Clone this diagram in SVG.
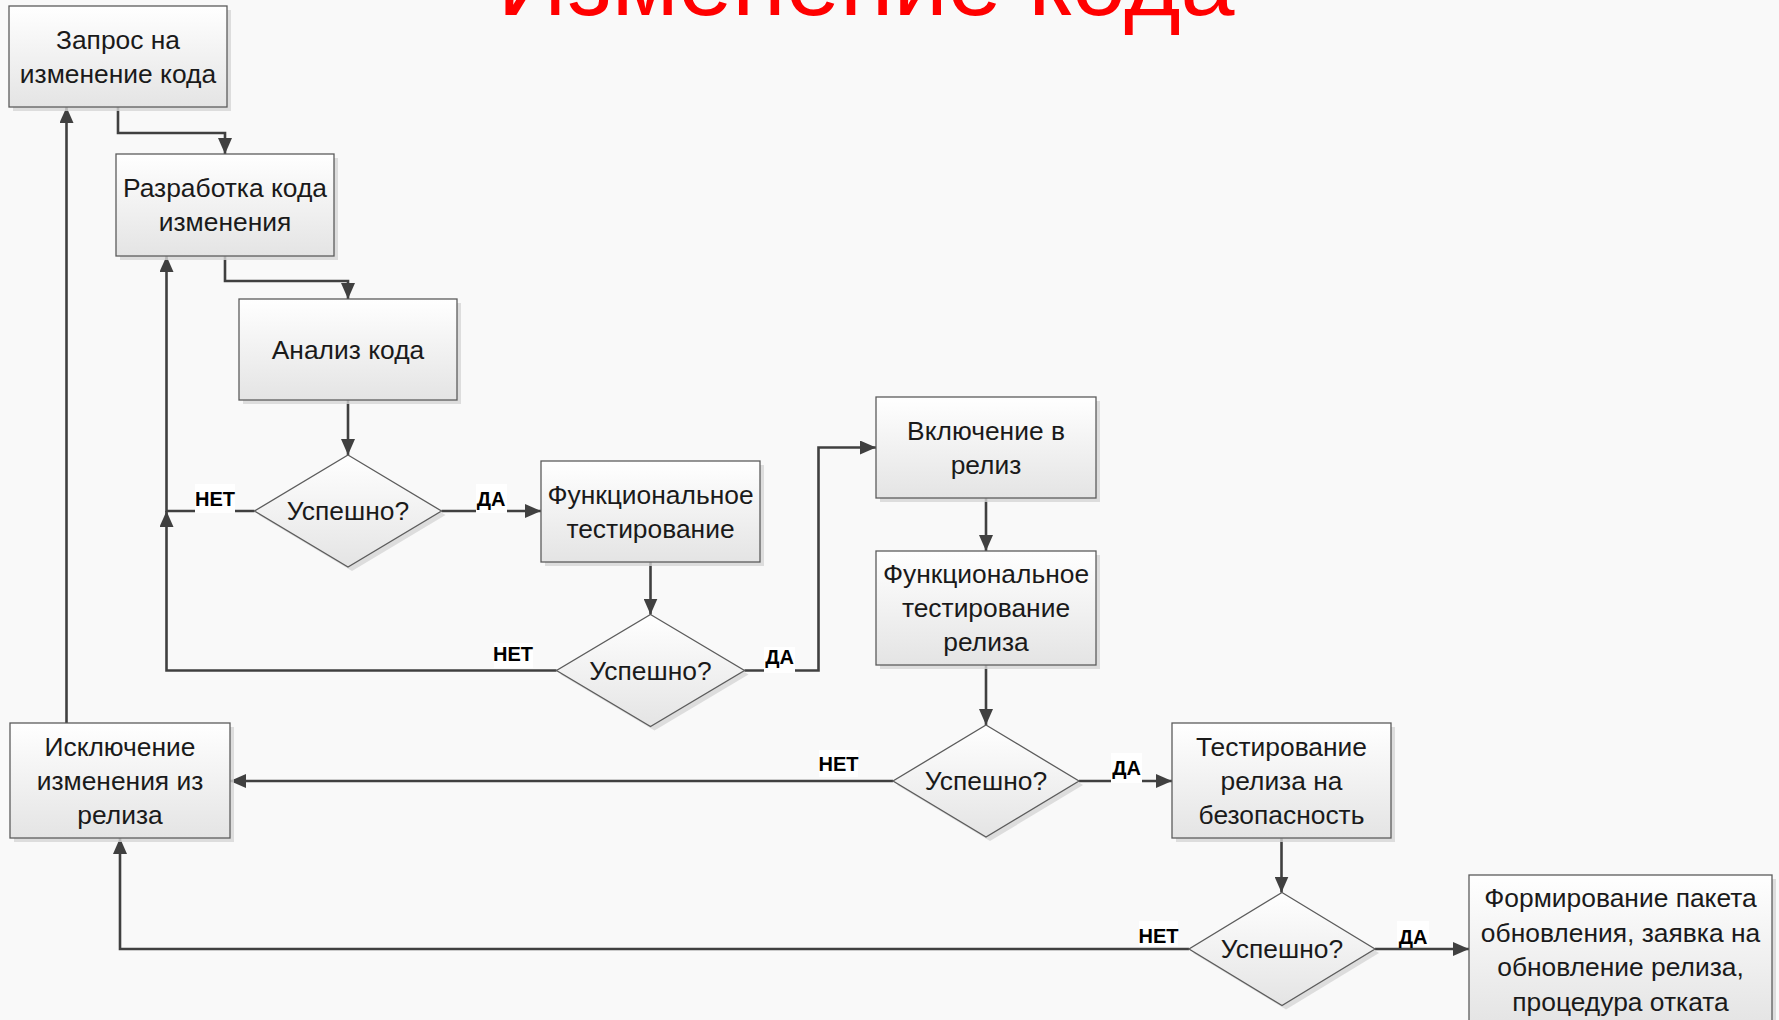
<svg xmlns="http://www.w3.org/2000/svg" width="1779" height="1020" viewBox="0 0 1779 1020">
<defs>
<linearGradient id="g" x1="0" y1="0" x2="0" y2="1">
<stop offset="0" stop-color="#ffffff"/>
<stop offset="1" stop-color="#e4e4e4"/>
</linearGradient>
<marker id="arr" markerWidth="16" markerHeight="14" refX="16" refY="7" orient="auto" markerUnits="userSpaceOnUse">
<path d="M0,0 L16,7 L0,14 Z" fill="#404040"/>
</marker>
</defs>
<style>
.bg{fill:#f9f9f9}
.shape{fill:url(#g);stroke:#5c5c5c;stroke-width:1.3}
.shadow{fill:#d6d6d6;opacity:0.8}
.t{font-family:"Liberation Sans",Arial,sans-serif;font-size:26.4px;fill:#1a1a1a;text-anchor:middle}
.c{fill:none;stroke:#404040;stroke-width:2.6}
.lbl{font-family:"Liberation Sans",Arial,sans-serif;font-size:20px;font-weight:bold;fill:#000;text-anchor:middle}
.lblbg{fill:#ffffff}
.title{font-family:"Liberation Sans",Arial,sans-serif;font-size:98px;fill:#ff0000;text-anchor:middle}
</style>
<rect class="bg" x="0" y="0" width="1779" height="1020"/>
<text class="title" x="866" y="15" textLength="737" lengthAdjust="spacingAndGlyphs">Изменение кода</text>

<g id="connectors">
<path class="c" d="M118,107 V133 H225 V154" marker-end="url(#arr)"/>
<path class="c" d="M225,256 V281 H348 V299" marker-end="url(#arr)"/>
<path class="c" d="M348,400 V455" marker-end="url(#arr)"/>
<path class="c" d="M441.5,511 H541" marker-end="url(#arr)"/>
<path class="c" d="M254.5,511 H166.5 V256" marker-end="url(#arr)"/>
<path class="c" d="M650.5,562 V614.5" marker-end="url(#arr)"/>
<path class="c" d="M556.5,670.5 H166.5 V511" marker-end="url(#arr)"/>
<path class="c" d="M744.5,670.5 H818.5 V447.5 H876" marker-end="url(#arr)"/>
<path class="c" d="M986,498 V551" marker-end="url(#arr)"/>
<path class="c" d="M986,665 V725" marker-end="url(#arr)"/>
<path class="c" d="M893,781 H230" marker-end="url(#arr)"/>
<path class="c" d="M1079,781 H1172" marker-end="url(#arr)"/>
<path class="c" d="M1281.5,838 V892.5" marker-end="url(#arr)"/>
<path class="c" d="M1189,949 H120 V838" marker-end="url(#arr)"/>
<path class="c" d="M1375,949 H1469" marker-end="url(#arr)"/>
<path class="c" d="M66.5,723 V107" marker-end="url(#arr)"/>
<g id="labels">
<rect class="lblbg" x="195" y="484" width="40" height="29"/>
<text class="lbl" x="215" y="506">НЕТ</text>
<rect class="lblbg" x="476" y="484" width="31" height="29"/>
<text class="lbl" x="491" y="506">ДА</text>
<rect class="lblbg" x="494" y="643" width="39" height="25"/>
<text class="lbl" x="513" y="661">НЕТ</text>
<rect class="lblbg" x="764" y="647" width="31" height="26"/>
<text class="lbl" x="779.5" y="664">ДА</text>
<rect class="lblbg" x="819" y="750" width="39" height="27"/>
<text class="lbl" x="838.5" y="771">НЕТ</text>
<rect class="lblbg" x="1111" y="753" width="31" height="30"/>
<text class="lbl" x="1126.5" y="775">ДА</text>
<rect class="lblbg" x="1139" y="921" width="39" height="25"/>
<text class="lbl" x="1158.5" y="943">НЕТ</text>
<rect class="lblbg" x="1397" y="921" width="32" height="25"/>
<text class="lbl" x="1413" y="944">ДА</text>
</g>
</g>

<g id="n1">
<rect class="shadow" x="13" y="10" width="218" height="101"/>
<rect class="shape" x="9" y="6" width="218" height="101"/>
<text class="t" x="118" y="49">Запрос на</text>
<text class="t" x="118" y="83">изменение кода</text>
</g>
<g id="n2">
<rect class="shadow" x="120" y="158" width="218" height="102"/>
<rect class="shape" x="116" y="154" width="218" height="102"/>
<text class="t" x="225" y="197">Разработка кода</text>
<text class="t" x="225" y="231">изменения</text>
</g>
<g id="n3">
<rect class="shadow" x="243" y="303" width="218" height="101"/>
<rect class="shape" x="239" y="299" width="218" height="101"/>
<text class="t" x="348" y="358.5">Анализ кода</text>
</g>
<g id="d1">
<polygon class="shadow" points="352,459 445.5,515 352,571 258.5,515"/>
<polygon class="shape" points="348,455 441.5,511 348,567 254.5,511"/>
<text class="t" x="348" y="520">Успешно?</text>
</g>
<g id="n4">
<rect class="shadow" x="545" y="465" width="219" height="101"/>
<rect class="shape" x="541" y="461" width="219" height="101"/>
<text class="t" x="650.5" y="503.5">Функциональное</text>
<text class="t" x="650.5" y="537.5">тестирование</text>
</g>
<g id="d2">
<polygon class="shadow" points="654.5,618.5 748.5,674.5 654.5,730.5 560.5,674.5"/>
<polygon class="shape" points="650.5,614.5 744.5,670.5 650.5,726.5 556.5,670.5"/>
<text class="t" x="650.5" y="679.5">Успешно?</text>
</g>
<g id="n5">
<rect class="shadow" x="880" y="401" width="220" height="101"/>
<rect class="shape" x="876" y="397" width="220" height="101"/>
<text class="t" x="986" y="439.5">Включение в</text>
<text class="t" x="986" y="473.5">релиз</text>
</g>
<g id="n6">
<rect class="shadow" x="880" y="555" width="220" height="114"/>
<rect class="shape" x="876" y="551" width="220" height="114"/>
<text class="t" x="986" y="583">Функциональное</text>
<text class="t" x="986" y="617">тестирование</text>
<text class="t" x="986" y="651">релиза</text>
</g>
<g id="d3">
<polygon class="shadow" points="990,729 1083,785 990,841 897,785"/>
<polygon class="shape" points="986,725 1079,781 986,837 893,781"/>
<text class="t" x="986" y="790">Успешно?</text>
</g>
<g id="n7">
<rect class="shadow" x="14" y="727" width="220" height="115"/>
<rect class="shape" x="10" y="723" width="220" height="115"/>
<text class="t" x="120" y="755.5">Исключение</text>
<text class="t" x="120" y="789.5">изменения из</text>
<text class="t" x="120" y="823.5">релиза</text>
</g>
<g id="n8">
<rect class="shadow" x="1176" y="727" width="219" height="115"/>
<rect class="shape" x="1172" y="723" width="219" height="115"/>
<text class="t" x="1281.5" y="755.5">Тестирование</text>
<text class="t" x="1281.5" y="789.5">релиза на</text>
<text class="t" x="1281.5" y="823.5">безопасность</text>
</g>
<g id="d4">
<polygon class="shadow" points="1286,896.5 1379,953 1286,1009.5 1193,953"/>
<polygon class="shape" points="1282,892.5 1375,949 1282,1005.5 1189,949"/>
<text class="t" x="1282" y="958">Успешно?</text>
</g>
<g id="n9">
<rect class="shadow" x="1473" y="879" width="303" height="150"/>
<rect class="shape" x="1469" y="875" width="303" height="150"/>
<text class="t" x="1620.5" y="907">Формирование пакета</text>
<text class="t" x="1620.5" y="941.5">обновления, заявка на</text>
<text class="t" x="1620.5" y="976">обновление релиза,</text>
<text class="t" x="1620.5" y="1010.5">процедура отката</text>
</g>
</svg>
